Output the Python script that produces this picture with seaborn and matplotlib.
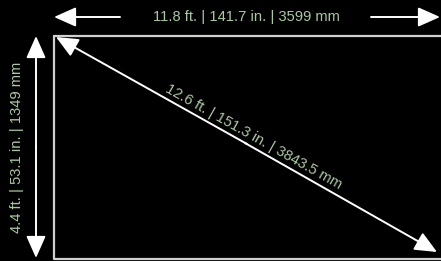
import matplotlib
matplotlib.use("Agg")
import matplotlib.pyplot as plt
import seaborn as sns
import pandas as pd
import numpy as np

# Data
dimensions = ["width", "height", "diagonal"]
labels = ["11.8 ft. | 141.7 in. | 3599 mm",
          "4.4 ft. | 53.1 in. | 1349 mm",
          "12.6 ft. | 151.3 in. | 3843.5 mm"]
width_mm = 3599
height_mm = 1349

sns.set_theme(style="dark")
plt.rcParams['font.family'] = ['Liberation Sans', 'DejaVu Sans']

W, H = 441, 261
fig = plt.figure(figsize=(W / 100, H / 100), dpi=100, facecolor="black")
ax = fig.add_axes([0, 0, 1, 1])
ax.set_facecolor("black")

# Rectangle (screen) in pixel layout
x0, y0 = 53.5, 35.5
sx = 392 / width_mm
x1 = x0 + width_mm * sx
y1 = y0 + height_mm * (223.5 / height_mm)
rect = pd.DataFrame({"x": [x0, x1, x1, x0, x0], "y": [y0, y0, y1, y1, y0]})
sns.lineplot(data=rect, x="x", y="y", sort=False, estimator=None, ax=ax,
             color="#d0d0d0", linewidth=1.6)
ax.set_xlim(0, W)
ax.set_ylim(H, 0)
ax.axis("off")

txt_color = "#a9c9a0"
fs = 10.6
arrow_kw = dict(arrowstyle="-|>,head_length=0.9,head_width=0.4", color="white",
                lw=1.4, shrinkA=0, shrinkB=0, mutation_scale=15)

# Width arrows
ax.annotate("", xy=(54, 17), xytext=(120, 17), arrowprops=arrow_kw)
ax.annotate("", xy=(440, 17), xytext=(371, 17), arrowprops=arrow_kw)
ax.text(246.5, 17.5, labels[0], color=txt_color, fontsize=fs, ha="center", va="center")

# Height arrow (double)
ax.annotate("", xy=(36, 36), xytext=(36, 148), arrowprops=arrow_kw)
ax.annotate("", xy=(36, 258), xytext=(36, 146), arrowprops=arrow_kw)
ax.text(17, 147, labels[1], color=txt_color, fontsize=fs, ha="center", va="center",
        rotation=90)

# Diagonal arrow
ax.annotate("", xy=(56, 37), xytext=(247, 144), arrowprops=arrow_kw)
ax.annotate("", xy=(437, 252), xytext=(245, 143), arrowprops=arrow_kw)
ang = np.degrees(np.arctan2(215, 383))
ax.text(254, 137, labels[2], color=txt_color, fontsize=fs, ha="center", va="center",
        rotation=-ang, rotation_mode="anchor")

fig.savefig("out.png", dpi=100, facecolor="black")
